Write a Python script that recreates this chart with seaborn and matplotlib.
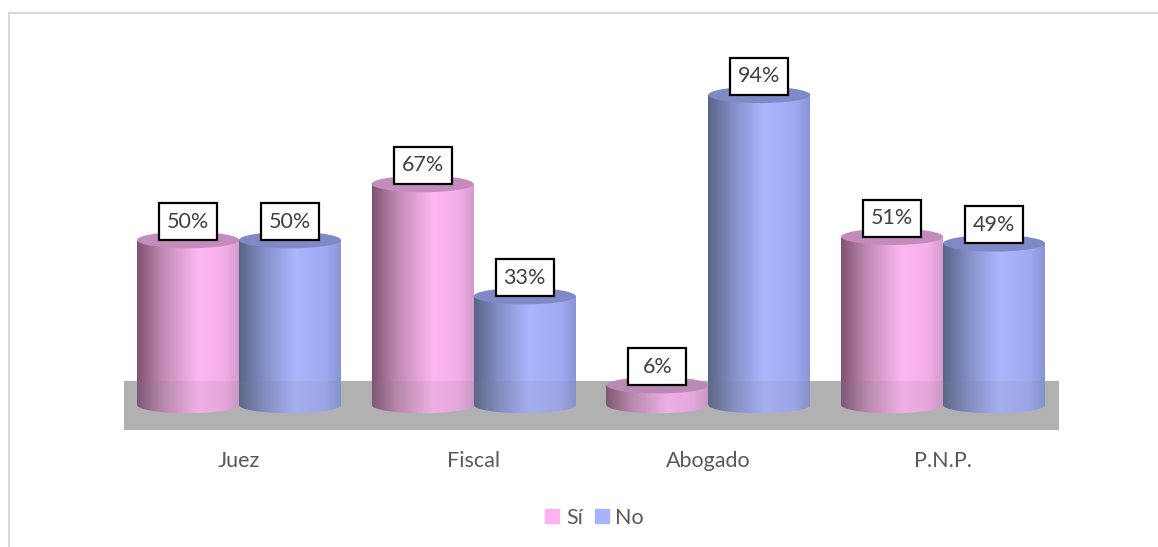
import pandas as pd
import matplotlib
matplotlib.use("Agg")
import matplotlib.pyplot as plt
import matplotlib.patches as mpatches
from matplotlib.colors import LinearSegmentedColormap
from matplotlib.lines import Line2D
import numpy as np
import seaborn as sns

categories = ["Juez", "Fiscal", "Abogado", "P.N.P."]
si_values = [50, 67, 6, 51]
no_values = [50, 33, 94, 49]
series_names = ["Sí", "No"]

sns.set_style("white")
plt.rcParams['font.family'] = ['Lato', 'DejaVu Sans']

df = pd.DataFrame({
    "cargo": categories * 2,
    "respuesta": [series_names[0]] * 4 + [series_names[1]] * 4,
    "valor": si_values + no_values,
})

colors = {"Sí": "#fbb4ef", "No": "#a9b2ff"}
top_colors = {"Sí": "#c48cbc", "No": "#7e89c6"}
# horizontal shading of each cylinder, dark on the left, brightest past the middle
ramps = {
    "Sí": [(0, "#7f5370"), (0.25, "#c08ab4"), (0.6, "#fdb7f3"), (0.85, "#f5aeea"), (1, "#d49ccc")],
    "No": [(0, "#596488"), (0.25, "#8490c8"), (0.55, "#acb6ff"), (0.85, "#a0aaf4"), (1, "#8a94d6")],
}

fig = plt.figure(figsize=(11.58, 5.47), dpi=100)
ax = fig.add_axes([124 / 1158, 1 - 430 / 547, 935 / 1158, 382 / 547])

sns.barplot(data=df, x="cargo", y="valor", hue="respuesta", order=categories,
            hue_order=series_names, palette=colors, width=0.869, gap=0,
            saturation=1, legend=False, linewidth=0, zorder=2, ax=ax)

ymin, ymax = -7.58, 108.2
floor_top = 7.27
xlim = (-0.49, 3.494)
grad = np.linspace(0, 1, 256).reshape(1, -1)
ell_h = 5.0  # ellipse height in data units

# floor band behind the bars
ax.axhspan(ymin, floor_top, facecolor="#b9b9b9", edgecolor="none", zorder=1)

for name, container in zip(series_names, ax.containers):
    cmap = LinearSegmentedColormap.from_list(name, ramps[name])
    for bar in container:
        x0, w, h = bar.get_x(), bar.get_width(), bar.get_height()
        xc = x0 + w / 2
        body = ax.imshow(grad, cmap=cmap, extent=(x0, x0 + w, -ell_h, h), aspect="auto", zorder=3)
        body.set_clip_path(bar)
        bottom = mpatches.Ellipse((xc, 0), w, ell_h, facecolor="none", edgecolor="none",
                                  transform=ax.transData)
        ax.add_patch(bottom)
        low = ax.imshow(grad, cmap=cmap, extent=(x0, x0 + w, -ell_h, h), aspect="auto", zorder=3)
        low.set_clip_path(bottom)
        ax.add_patch(mpatches.Ellipse((xc, h), w, ell_h, facecolor=top_colors[name],
                                      edgecolor="none", zorder=3.5))

# floor is slightly see-through, it tints the cylinders
ax.axhspan(ymin, floor_top, facecolor="#808080", edgecolor="none", alpha=0.13, zorder=4)

# value labels
box_w, box_h = 0.247, 11.2
for name, container in zip(series_names, ax.containers):
    for bar in container:
        xc = bar.get_x() + bar.get_width() / 2
        h = bar.get_height()
        ax.add_patch(mpatches.Rectangle((xc - box_w / 2, h), box_w, box_h, facecolor="white",
                                        edgecolor="black", linewidth=1.6, zorder=5))
        ax.text(xc, h + box_h / 2, f"{h:.0f}%", ha="center", va="center",
                fontsize=15.5, color="#404040", zorder=6)

ax.set_xlim(xlim)
ax.set_ylim(ymin, ymax)
ax.set_yticks([])
ax.set_xlabel("")
ax.set_ylabel("")
ax.tick_params(axis="x", length=0, pad=15, labelsize=15.5, labelcolor="#595959")
sns.despine(ax=ax, left=True, bottom=True)

handles = [mpatches.Patch(color=colors[n], label=n) for n in series_names]
fig.legend(handles=handles, loc="center", bbox_to_anchor=(594.5 / 1158, 1 - 517.5 / 547), ncol=2,
           frameon=False, fontsize=15.5, handlelength=0.65, handleheight=0.65, handletextpad=0.3,
           columnspacing=0.55, labelcolor="#595959", borderpad=0)

# thin outer chart frame
frame = "#d9d9d9"
fig.add_artist(Line2D([9 / 1158, 9 / 1158], [0, 1 - 12.5 / 547], color=frame, lw=1.5))
fig.add_artist(Line2D([9 / 1158, 1], [1 - 12.5 / 547, 1 - 12.5 / 547], color=frame, lw=1.5))

fig.savefig("out.png", dpi=100)
